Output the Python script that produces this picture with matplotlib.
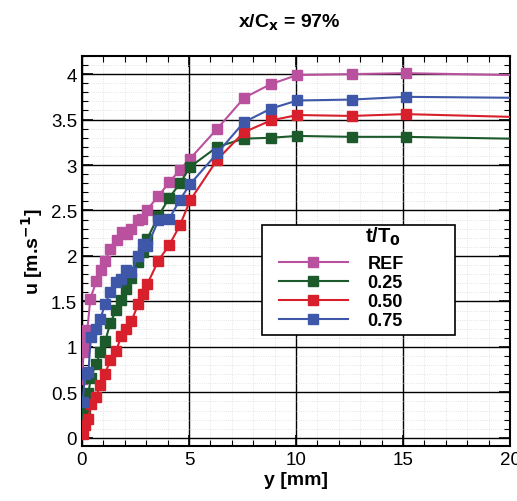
import numpy as np
import matplotlib.pyplot as plt
from matplotlib.patches import Rectangle
from matplotlib.ticker import MultipleLocator

plt.rcParams['font.family'] = ['Liberation Sans', 'DejaVu Sans']

# profile data, y [mm] vs u [m/s]
y_ref = [0.02, 0.07, 0.14, 0.25, 0.39, 0.67, 0.87, 1.09, 1.32, 1.62, 1.88, 2.09, 2.29, 2.63,
         2.82, 3.05, 3.57, 4.08, 4.58, 5.05, 6.32, 7.58, 8.82, 10.06, 12.6, 15.12, 20.0]
u_ref = [0.65, 0.94, 1.07, 1.19, 1.53, 1.72, 1.85, 1.94, 2.08, 2.18, 2.26, 2.24, 2.30, 2.40,
         2.41, 2.51, 2.66, 2.81, 2.95, 3.07, 3.40, 3.74, 3.89, 3.99, 4.00, 4.01, 3.99]

y_t = [0.03, 0.14, 0.30, 0.41, 0.65, 0.86, 1.08, 1.32, 1.60, 1.84, 2.07, 2.30, 2.63,
       2.83, 3.05, 3.57, 4.08, 4.58, 5.05, 6.32, 7.56, 8.82, 10.06, 12.60, 15.12, 20.0]
u_025 = [0.17, 0.30, 0.49, 0.66, 0.81, 0.94, 1.06, 1.26, 1.41, 1.52, 1.64, 1.76, 1.93,
         2.04, 2.19, 2.44, 2.64, 2.80, 2.98, 3.20, 3.29, 3.30, 3.32, 3.31, 3.31, 3.29]
u_050 = [0.04, 0.14, 0.21, 0.37, 0.45, 0.58, 0.70, 0.86, 0.96, 1.12, 1.20, 1.28, 1.47,
         1.58, 1.69, 1.95, 2.12, 2.34, 2.61, 3.06, 3.36, 3.49, 3.55, 3.54, 3.56, 3.53]
u_075 = [0.39, 0.70, 0.72, 1.11, 1.20, 1.31, 1.47, 1.60, 1.71, 1.75, 1.85, 1.82, 2.00,
         2.13, 2.11, 2.39, 2.41, 2.62, 2.79, 3.13, 3.47, 3.62, 3.71, 3.72, 3.75, 3.74]

labels = ['REF', '0.25', '0.50', '0.75']
colors = ['#b9519f', '#1c5a2c', '#d7202b', '#3f57a8']

fig = plt.figure(figsize=(5.17, 5.02), dpi=100)
ax = fig.add_axes([0.1586, 0.1096, 0.828, 0.777])

series = [(y_ref, u_ref), (y_t, u_025), (y_t, u_050), (y_t, u_075)]
for (x, u), lab, c in zip(series, labels, colors):
    # last point sits on the right border, no marker there
    ax.plot(x, u, color=c, lw=1.5, marker='s', ms=6.5, mec=c, mfc=c,
            markevery=list(range(len(x) - 1)), label=lab, zorder=3)

ax.set_xlim(0, 20)
ax.set_ylim(-0.09, 4.2)
ax.xaxis.set_major_locator(MultipleLocator(5))
ax.xaxis.set_minor_locator(MultipleLocator(1))
ax.yaxis.set_major_locator(MultipleLocator(0.5))
ax.yaxis.set_minor_locator(MultipleLocator(0.1))
ax.yaxis.set_major_formatter(plt.FuncFormatter(lambda v, p: f'{v:g}'))

ax.grid(which='major', color='black', lw=1.0)
ax.grid(which='minor', color='#dcdcdc', lw=0.6, ls=':')
ax.set_axisbelow(True)
ax.tick_params(which='both', direction='in', top=True, right=True, labelsize=13.5)
ax.tick_params(which='major', length=8, width=1.2)
ax.tick_params(which='minor', length=4.5, width=0.8)
for s in ax.spines.values():
    s.set_linewidth(1.5)

ax.set_xlabel('y [mm]', fontsize=14, fontweight='bold', labelpad=2)
ax.set_ylabel(r'u [m.s$^{\mathbf{-1}}$]', fontsize=14, fontweight='bold', labelpad=4)
fig.text(0.56, 0.955, r'x/C$_\mathbf{x}$ = 97%', fontsize=14, fontweight='bold',
         ha='center', va='center')

# legend box, title and entries
ax.add_patch(Rectangle((0.42, 0.285), 0.451, 0.282, transform=ax.transAxes,
                       facecolor='white', edgecolor='black', lw=1.2, zorder=4))
ax.text(0.703, 0.538, r't/T$_\mathbf{0}$', transform=ax.transAxes, fontsize=14.5,
        fontweight='bold', ha='center', va='center', zorder=5)
leg = ax.legend(loc='upper left', bbox_to_anchor=(0.46, 0.49), frameon=False,
                borderpad=0, borderaxespad=0, handlelength=3.8, handletextpad=1.1,
                labelspacing=0.12, prop={'weight': 'bold', 'size': 13}, numpoints=1)
leg.set_zorder(5)

fig.savefig('out.png', dpi=100)
